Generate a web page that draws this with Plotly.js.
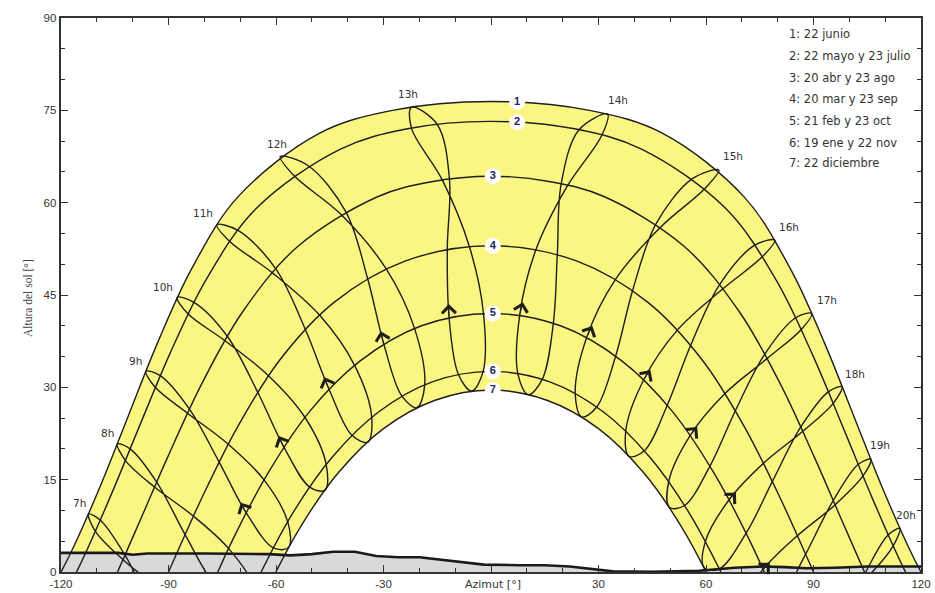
<!DOCTYPE html>
<html><head><meta charset="utf-8">
<script src="https://cdn.plot.ly/plotly-3.0.1.min.js"></script>
<style>html,body{margin:0;padding:0;background:#fff}#chart{width:935px;height:593px}</style>
</head><body><div id="chart"></div>
<script>
// ---------- DATA ----------
const hourNames = ['7h','8h','9h','10h','11h','12h','13h','14h','15h','16h','17h','18h','19h','20h'];

// sun position for each date at hours 7h..20h : azimuth [deg], altitude [deg]
const azDic22  = [-73.6,-65.5,-56.5,-46.3,-34.4,-20.7,-5.4,10.4,25.3,38.5,49.8,59.5,68.1,76.2];
const altDic22 = [-17.7,-6.5,4.0,13.3,21.1,26.7,29.4,28.8,25.2,18.8,10.5,0.7,-10.0,-21.4];
const azEne19  = [-78.0,-69.7,-60.7,-50.6,-38.8,-24.9,-9.1,7.5,23.5,37.6,49.6,59.8,68.9,77.2];
const altEne19 = [-18.5,-7.0,3.9,13.8,22.2,28.6,32.1,32.2,29.0,22.9,14.7,4.9,-5.9,-17.4];
const azFeb21  = [-86.4,-77.6,-68.3,-57.8,-45.2,-29.9,-11.7,8.0,26.7,42.6,55.6,66.4,75.9,84.8];
const altFeb21 = [-13.7,-1.8,9.6,20.3,29.7,37.0,41.3,41.7,38.1,31.2,22.2,11.7,0.4,-11.4];
const azMar20  = [-94.5,-85.4,-75.9,-65.1,-51.8,-34.4,-12.2,12.5,34.7,52.0,65.3,76.1,85.5,94.6];
const altMar20 = [-5.9,6.1,17.9,29.2,39.4,47.6,52.4,52.3,47.5,39.3,29.0,17.7,5.9,-6.1];
const azAbr20  = [-102.1,-93.3,-84.2,-73.6,-60.1,-40.5,-11.6,21.4,47.3,64.7,77.1,87.1,96.0,104.9];
const altAbr20 = [2.7,14.6,26.5,38.3,49.3,58.5,63.9,62.8,56.0,46.0,34.7,22.9,10.9,-0.9];
const azMay22  = [-109.0,-100.7,-92.3,-82.9,-70.6,-51.0,-15.0,30.9,59.7,75.7,86.6,95.5,103.8,112.2];
const altMay22 = [8.4,20.0,31.9,43.8,55.5,66.0,72.7,70.9,62.3,51.2,39.4,27.4,15.6,4.2];
const azJun22  = [-112.3,-104.3,-96.3,-87.6,-76.5,-58.8,-22.2,32.5,63.6,79.2,89.5,98.0,106.0,114.1];
const altJun22 = [9.4,20.8,32.6,44.6,56.4,67.5,75.5,74.4,65.3,53.9,42.0,30.1,18.3,7.1];
const azJul23  = [-110.4,-102.0,-93.7,-84.5,-72.9,-55.0,-22.2,24.5,56.2,73.6,85.0,94.2,102.5,110.8];
const altJul23 = [6.6,18.1,30.0,41.9,53.7,64.4,72.1,71.8,63.9,53.1,41.3,29.3,17.5,6.0];
const azAgo23  = [-102.7,-93.9,-84.7,-74.3,-61.0,-41.9,-13.6,19.6,46.0,63.8,76.4,86.5,95.5,104.4];
const altAgo23 = [2.0,13.8,25.8,37.6,48.6,58.1,63.7,63.1,56.5,46.7,35.4,23.6,11.6,-0.2];
const azSep23  = [-92.2,-83.1,-73.4,-62.1,-47.8,-29.2,-6.0,18.5,39.5,55.7,68.2,78.6,87.8,96.9];
const altSep23 = [-2.9,9.1,20.8,31.9,41.7,49.2,52.8,51.5,45.7,36.8,26.2,14.8,2.9,-9.1];
const azOct23  = [-82.1,-73.2,-63.4,-51.9,-38.1,-21.3,-2.1,17.4,34.8,49.2,61.1,71.2,80.2,89.1];
const altOct23 = [-7.9,3.8,15.0,25.1,33.6,39.5,42.0,40.4,35.1,27.1,17.2,6.3,-5.3,-17.2];
const azNov22  = [-74.6,-66.1,-56.7,-46.0,-33.3,-18.5,-2.2,14.3,29.5,42.8,54.0,63.7,72.4,80.6];
const altNov22 = [-13.7,-2.4,8.1,17.5,25.2,30.4,32.6,31.3,26.8,19.7,10.8,0.5,-10.6,-22.2];

// daily sun paths (curves 1..7)
const c1Az  = [-126.8,-117.5,-109.1,-101.2,-93.0,-83.6,-70.7,-47.8,-27.5,0,27.5,47.8,70.7,83.6,93.0,101.2,109.1,117.5,126.8];
const c1Alt = [-7.3,2.85,13.85,25.4,37.3,49.2,60.9,71.3,75.0,76.44,75.0,71.3,60.9,49.2,37.3,25.4,13.85,2.85,-7.3];
const c2Az  = [-124.5,-115.0,-106.4,-98.1,-89.5,-79.5,-65.6,-42.0,-23.3,0,23.3,42.0,65.6,79.5,89.5,98.1,106.4,115.0,124.5];
const c2Alt = [-9.6,0.8,12.0,23.7,35.6,47.5,59.0,68.7,72.0,73.2,72.0,68.7,59.0,47.5,35.6,23.7,12.0,0.8,-9.6];
const c3Az  = [-118.0,-108.1,-99.1,-90.2,-80.7,-69.4,-54.1,-31.5,-16.6,0,16.6,31.5,54.1,69.4,80.7,90.2,99.1,108.1,118.0];
const c3Alt = [-15.9,-4.9,6.8,18.7,30.6,42.2,52.8,61.0,63.4,64.3,63.4,61.0,52.8,42.2,30.6,18.7,6.8,-4.9,-15.9];
const c4Az  = [-99.2,-90,-80.8,-70.8,-59.0,-43.8,-24.0,0,24.0,43.8,59.0,70.8,80.8,90,99.2];
const c4Alt = [-11.9,0,11.9,23.5,34.4,43.8,50.5,53.0,50.5,43.8,34.4,23.5,11.9,0,-11.9];
const c5Az  = [-90.0,-81.2,-72.2,-62.2,-50.6,-36.5,-19.4,0,19.4,36.5,50.6,62.2,72.2,81.2,90.0];
const c5Alt = [-18.5,-6.6,5.1,16.1,26.1,34.3,40.0,42.0,40.0,34.3,26.1,16.1,5.1,-6.6,-18.5];
const c6Az  = [-73.5,-64.9,-55.4,-44.4,-31.4,-16.4,0,16.4,31.4,44.4,55.4,64.9,73.5];
const c6Alt = [-12.1,-0.9,9.5,18.6,26.0,30.9,32.6,30.9,26.0,18.6,9.5,-0.9,-12.1];
const c7Az  = [-70.9,-62.5,-53.2,-42.5,-30.0,-15.6,0,15.6,30.0,42.5,53.2,62.5,70.9];
const c7Alt = [-13.9,-2.9,7.3,16.2,23.3,27.9,29.56,27.9,23.3,16.2,7.3,-2.9,-13.9];

// horizon profile
const horizAz  = [-120,-104,-100,-96,-80,-62,-56,-50,-44,-38,-32,-26,-20,-10,-2,8,15,22,28,34,45,58,68,76,82,88,96,105,112,120];
const horizAlt = [3.1,3.1,2.8,3.0,3.0,2.9,2.7,2.9,3.3,3.3,2.6,2.4,2.4,1.8,1.2,1.1,1.1,0.9,0.5,0.1,0.05,0.2,0.7,0.9,0.8,0.6,0.7,0.9,0.9,0.9];

// curve number labels
const curveNums = ['1','2','3','4','5','6','7'];
const curveNumAz  = [7.3,7.3,0.5,0.5,0.5,0.5,0.5];
const curveNumAlt = [76.35,73.07,64.3,53.0,42.0,32.6,29.56];

// hour label positions
const hourLblAz  = [-114.7,-106.9,-99.1,-91.5,-80.4,-59.7,-23.2,35.4,67.5,83.2,93.8,101.6,108.6,115.8];
const hourLblAlt = [11.2,22.6,34.3,46.3,58.4,69.6,77.7,76.7,67.6,56.1,44.2,32.2,20.7,9.3];

// legend text
const legendLines = ['1: 22 junio','2: 22 mayo y 23 julio','3: 20 abr y 23 ago','4: 20 mar y 23 sep','5: 21 feb y 23 oct','6: 19 ene y 22 nov','7: 22 diciembre'];

// tick labels
const xTickVals = [-120,-90,-60,-30,0,30,60,90,120];
const xTickText = ['-120','-90','-60','-30','','30','60','90','120'];
const yTickVals = [0,15,30,45,60,75,90];

// ---------- BUILD ----------
const LINE = '#1e1e1e';
const YELLOW = '#fbf682';
const SANS = 'DejaVu Sans, Verdana, sans-serif';
const yearAz  = [azDic22,azEne19,azFeb21,azMar20,azAbr20,azMay22,azJun22,azJul23,azAgo23,azSep23,azOct23,azNov22];
const yearAlt = [altDic22,altEne19,altFeb21,altMar20,altAbr20,altMay22,altJun22,altJul23,altAgo23,altSep23,altOct23,altNov22];

const traces = [];
const base = {mode:'lines', hoverinfo:'skip', showlegend:false};
traces.push(Object.assign({}, base, {x:c1Az, y:c1Alt, fill:'tozeroy', fillcolor:YELLOW, line:{width:0, shape:'spline', simplify:false}}));
traces.push(Object.assign({}, base, {x:c7Az, y:c7Alt, fill:'tozeroy', fillcolor:'#ffffff', line:{width:0, shape:'spline', simplify:false}}));
traces.push(Object.assign({}, base, {x:horizAz, y:horizAlt, fill:'tozeroy', fillcolor:'#d9d9d9', line:{width:0}}));

[[c1Az,c1Alt],[c2Az,c2Alt],[c3Az,c3Alt],[c4Az,c4Alt],[c5Az,c5Alt],[c6Az,c6Alt],[c7Az,c7Alt]].forEach(function(c){
  traces.push(Object.assign({}, base, {x:c[0], y:c[1], line:{color:LINE, width:1.4, shape:'spline', simplify:false}}));
});

for (let i = 0; i < hourNames.length; i++) {
  const xs = yearAz.map(a => a[i]);
  const ys = yearAlt.map(a => a[i]);
  xs.push(xs[0]); ys.push(ys[0]);
  traces.push(Object.assign({}, base, {x:xs, y:ys, line:{color:LINE, width:1.4, shape:'spline', simplify:false}}));
}

traces.push(Object.assign({}, base, {x:horizAz, y:horizAlt, line:{color:'#1a1a1a', width:2.6}}));

traces.push({x:curveNumAz, y:curveNumAlt, text:curveNums, mode:'markers+text', textposition:'middle center',
  marker:{size:16, color:'#ffffff', line:{width:0}}, textfont:{family:'Liberation Sans, Arial, sans-serif', size:11, color:'#25255e', weight:'bold'},
  hoverinfo:'skip', showlegend:false, cliponaxis:false});

const annotations = [];
hourNames.forEach(function(h, i){
  annotations.push({x:hourLblAz[i], y:hourLblAlt[i], xref:'x', yref:'y', text:h, showarrow:false,
    font:{family:SANS, size:10.5, color:'#333'}});
});
// direction arrows on the Feb -> Mar branch, hours 9h..19h
for (let i = 2; i <= 12; i++) {
  const x0 = azFeb21[i], y0 = altFeb21[i];
  const x1 = x0 + 0.2*(azMar20[i]-x0), y1 = y0 + 0.2*(altMar20[i]-y0);
  annotations.push({x:x1, y:y1, ax:x0, ay:y0, xref:'x', yref:'y', axref:'x', ayref:'y', text:'', showarrow:true,
    arrowhead:4, arrowsize:3, arrowwidth:0.9, arrowcolor:LINE});
}
const PL = 61, PT = 18, PW = 860, PH = 554;
const legendPx = [34, 56.5, 78, 99.5, 121, 142.5, 163];
legendLines.forEach(function(t, i){
  annotations.push({xref:'paper', yref:'paper', x:(787-PL)/PW, y:(PT+PH-legendPx[i])/PH, xanchor:'left', yanchor:'middle',
    text:t, showarrow:false, font:{family:SANS, size:11.5, color:'#333'}});
});
annotations.push({xref:'x', yref:'paper', x:0.5, y:-12/PH, yanchor:'middle', text:'Azimut [°]', showarrow:false,
  font:{family:SANS, size:11, color:'#333'}});
annotations.push({xref:'paper', yref:'paper', x:(20-PL)/PW, y:(PT+PH-298)/PH, textangle:-90, text:'Altura del sol [°]', showarrow:false,
  font:{family:'Liberation Serif, Times New Roman, serif', size:11.5, color:'#444'}});

const axisCommon = {showgrid:false, zeroline:false, showline:true, linecolor:'#333', linewidth:2.4, mirror:'ticks',
  ticks:'inside', ticklen:7, tickwidth:1, tickcolor:'#333', tickfont:{family:'Liberation Sans, Arial, sans-serif', size:11.5, color:'#333'}};

const layout = {
  width:935, height:593, margin:{l:PL, r:14, t:PT, b:21},
  paper_bgcolor:'#ffffff', plot_bgcolor:'#ffffff', showlegend:false,
  xaxis:Object.assign({}, axisCommon, {range:[-120,120], tickmode:'array', tickvals:xTickVals, ticktext:xTickText,
    minor:{dtick:10, tick0:0, ticklen:4, ticks:'inside', tickcolor:'#333'}}),
  yaxis:Object.assign({}, axisCommon, {range:[0,90], tickmode:'array', tickvals:yTickVals,
    minor:{dtick:5, tick0:0, ticklen:4, ticks:'inside', tickcolor:'#333'}}),
  annotations:annotations
};
Plotly.newPlot('chart', traces, layout, {staticPlot:true});
</script></body></html>
